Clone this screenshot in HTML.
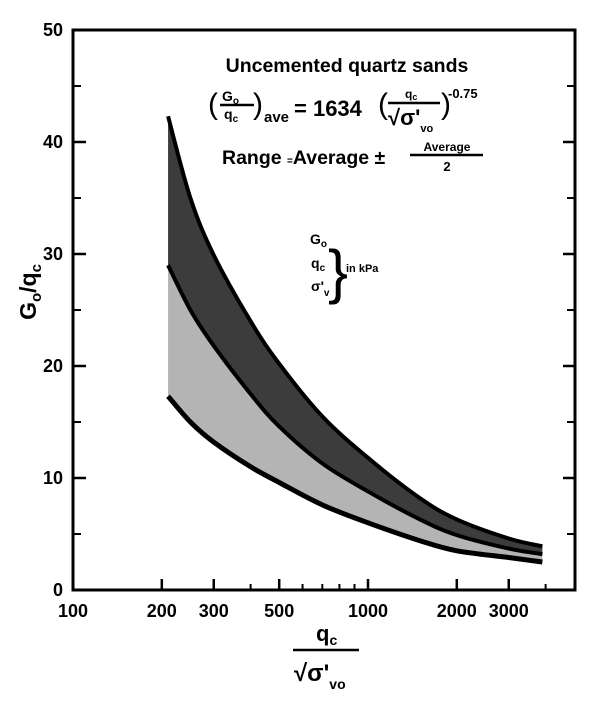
<!DOCTYPE html>
<html><head><meta charset="utf-8"><style>
html,body{margin:0;padding:0;background:#fff;}
svg{display:block;font-family:"Liberation Sans",Arial,sans-serif;font-weight:bold;}
</style></head><body>
<svg id="chart" width="612" height="712" viewBox="0 0 612 712">
<g id="bands"></g>
<g id="lines"></g>
<rect x="73" y="30" width="502" height="560" fill="none" stroke="#000" stroke-width="3"/>
<g id="axes"></g>
<text x="347" y="72" font-size="19.5" text-anchor="middle">Uncemented  quartz sands</text>
<g>
<text x="208" y="114" font-size="30" font-weight="normal">(</text>
<text x="222" y="101" font-size="14">G<tspan font-size="10" dy="3">o</tspan></text>
<line x1="220" y1="105" x2="254" y2="105" stroke="#000" stroke-width="2.5"/>
<text x="224" y="119" font-size="14">q<tspan font-size="10" dy="3">c</tspan></text>
<text x="253" y="114" font-size="30" font-weight="normal">)</text>
<text x="264" y="122" font-size="15">ave</text>
<text x="294" y="116" font-size="22">= 1634</text>
<text x="378" y="114" font-size="30" font-weight="normal">(</text>
<text x="405" y="98" font-size="12">q<tspan font-size="9" dy="2">c</tspan></text>
<line x1="388" y1="103" x2="440" y2="103" stroke="#000" stroke-width="2.5"/>
<text x="388" y="125" font-size="22">√σ'<tspan font-size="11" dy="7">vo</tspan></text>
<text x="441" y="114" font-size="30" font-weight="normal">)</text>
<text x="448" y="98" font-size="13">-0.75</text>
</g>
<g>
<text x="222" y="164" font-size="19.5">Range <tspan font-size="10">=</tspan>Average ±</text>
<text x="447" y="151" font-size="12" text-anchor="middle">Average</text>
<line x1="410" y1="155" x2="483" y2="155" stroke="#000" stroke-width="2.5"/>
<text x="447" y="171" font-size="13" text-anchor="middle">2</text>
</g>
<g font-size="14">
<text x="310" y="244">G<tspan font-size="10" dy="3">o</tspan></text>
<text x="311" y="268">q<tspan font-size="10" dy="3">c</tspan></text>
<text x="311" y="291">σ'<tspan font-size="10" dy="5">v</tspan></text>
<text x="328" y="292" font-size="60" font-weight="normal">}</text>
<text x="346" y="272" font-size="11">in kPa</text>
</g>
<text transform="translate(36,292) rotate(-90)" font-size="23" text-anchor="middle">G<tspan font-size="15" dy="5">o</tspan><tspan dy="-5">/q</tspan><tspan font-size="15" dy="5">c</tspan></text>
<g>
<text x="316" y="641" font-size="22">q<tspan font-size="14" dy="4">c</tspan></text>
<line x1="293" y1="650" x2="359" y2="650" stroke="#000" stroke-width="2.5"/>
<text x="294" y="681" font-size="24">√σ'<tspan font-size="14" dy="8">vo</tspan></text>
</g>
</svg>
<script>
const xValues = [210, 250, 300, 400, 500, 700, 1000, 1500, 2000, 3000, 3900];
const upperValues = [42.3, 35.0, 29.9, 24.0, 20.2, 15.5, 11.8, 8.2, 6.3, 4.6, 3.9];
const averageValues = [29.0, 25.0, 21.8, 17.5, 14.6, 11.3, 8.8, 6.3, 4.9, 3.7, 3.2];
const lowerValues = [17.3, 15.0, 13.2, 11.0, 9.6, 7.6, 6.0, 4.4, 3.5, 2.9, 2.5];
const yTickLabels = [0, 10, 20, 30, 40, 50];
const xTickLabels = [100, 200, 300, 500, 1000, 2000, 3000];
const xMinorTicks = [400, 600, 700, 800, 900, 4000];

const NS = 'http://www.w3.org/2000/svg';
const L = 73, R = 575, T = 30, B = 590;
function sx(v){ return L + Math.log10(v / 100) * 295; }
function sy(v){ return B - v * (B - T) / 50; }
function pts(vals){ return xValues.map((x,i)=>[sx(x), sy(vals[i])]); }
function spline(p){
  let d = '';
  for (let i=0;i<p.length-1;i++){
    const p0=p[Math.max(i-1,0)], p1=p[i], p2=p[i+1], p3=p[Math.min(i+2,p.length-1)];
    const c1=[p1[0]+(p2[0]-p0[0])/6, p1[1]+(p2[1]-p0[1])/6];
    const c2=[p2[0]-(p3[0]-p1[0])/6, p2[1]-(p3[1]-p1[1])/6];
    d += ` C${c1[0]},${c1[1]} ${c2[0]},${c2[1]} ${p2[0]},${p2[1]}`;
  }
  return d;
}
function pathFwd(p){ return `M${p[0][0]},${p[0][1]}` + spline(p); }
function band(a,b){
  const pb = b.slice().reverse();
  return pathFwd(a) + ` L${pb[0][0]},${pb[0][1]}` + spline(pb) + ' Z';
}
function mk(tag, attrs, parent){
  const e = document.createElementNS(NS, tag);
  for (const k in attrs) e.setAttribute(k, attrs[k]);
  parent.appendChild(e);
  return e;
}
const bands = document.getElementById('bands');
const lines = document.getElementById('lines');
const axes = document.getElementById('axes');
const pu = pts(upperValues), pa = pts(averageValues), pl = pts(lowerValues);
const darkBand = mk('path', {d: band(pu, pa), fill: '#3c3c3c'}, bands);


const lightBand = mk('path', {d: band(pa, pl), fill: '#b4b4b4'}, bands);


const uLine = mk('path', {d: pathFwd(pu), fill: 'none', stroke: '#000', 'stroke-width': 4}, lines);


const aLine = mk('path', {d: pathFwd(pa), fill: 'none', stroke: '#000', 'stroke-width': 4}, lines);


const lLine = mk('path', {d: pathFwd(pl), fill: 'none', stroke: '#000', 'stroke-width': 5}, lines);



yTickLabels.forEach(v => {
  const y = sy(v);
  mk('line', {x1: L, x2: L+13, y1: y, y2: y, stroke: '#000', 'stroke-width': 2.5}, axes);
  mk('line', {x1: R, x2: R-12, y1: y, y2: y, stroke: '#000', 'stroke-width': 2.5}, axes);
  const t = mk('text', {x: 63, y: y+6, 'font-size': 18, 'text-anchor': 'end'}, axes);
  t.textContent = v;
  
  
  if (v < 50) {
    const ym = sy(v + 5);
    mk('line', {x1: L, x2: L+8, y1: ym, y2: ym, stroke: '#000', 'stroke-width': 2}, axes);
    mk('line', {x1: R, x2: R-8, y1: ym, y2: ym, stroke: '#000', 'stroke-width': 2}, axes);
  }
});
xTickLabels.forEach(v => {
  const x = sx(v);
  mk('line', {x1: x, x2: x, y1: B, y2: B-11, stroke: '#000', 'stroke-width': 2.5}, axes);
  const t = mk('text', {x: x, y: 617, 'font-size': 18, 'text-anchor': 'middle'}, axes);
  t.textContent = v;
  
  
});
xMinorTicks.forEach(v => {
  const x = sx(v);
  mk('line', {x1: x, x2: x, y1: B, y2: B-6, stroke: '#000', 'stroke-width': 2}, axes);
});
</script>
</body></html>
